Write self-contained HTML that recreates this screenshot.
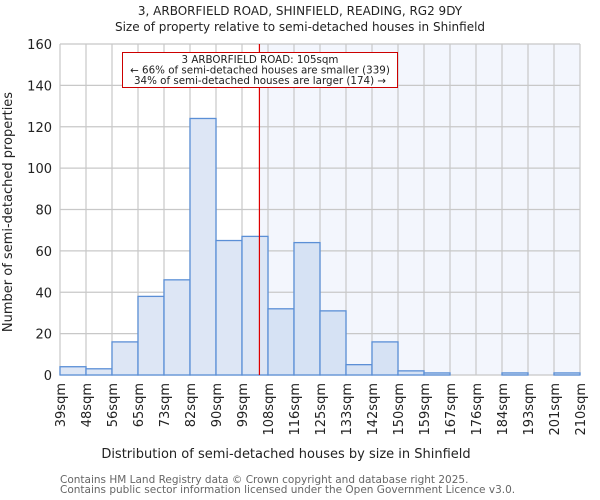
<!DOCTYPE html>
<html><head><meta charset="utf-8"><style>
body{margin:0;background:#fff;}
svg{display:block;font-family:"DejaVu Sans","Liberation Sans",sans-serif;}
</style></head><body>
<svg id="c" width="600" height="500" viewBox="0 0 600 500">
<text x="300" y="15" text-anchor="middle" font-size="12" fill="#222">3, ARBORFIELD ROAD, SHINFIELD, READING, RG2 9DY</text>
<text x="300" y="31" text-anchor="middle" font-size="12" fill="#222">Size of property relative to semi-detached houses in Shinfield</text>
<g id="plot"></g>
<text x="286" y="458" text-anchor="middle" font-size="13" fill="#222">Distribution of semi-detached houses by size in Shinfield</text>
<text transform="translate(12,212) rotate(-90)" text-anchor="middle" font-size="13" fill="#222">Number of semi-detached properties</text>
<text x="60" y="483" font-size="10.5" fill="#666">Contains HM Land Registry data © Crown copyright and database right 2025.</text>
<text x="60" y="493" font-size="10.5" fill="#666">Contains public sector information licensed under the Open Government Licence v3.0.</text>
</svg>
<script>
const edgeLabels = ["39sqm","48sqm","56sqm","65sqm","73sqm","82sqm","90sqm","99sqm","108sqm","116sqm","125sqm","133sqm","142sqm","150sqm","159sqm","167sqm","176sqm","184sqm","193sqm","201sqm","210sqm"];
const counts = [4,3,16,38,46,124,65,67,32,64,31,5,16,2,1,0,0,1,0,1];
const yTicks = [0,20,40,60,80,100,120,140,160];
const markerBin = 7.67; // 105sqm in bin units
const annotation = ["3 ARBORFIELD ROAD: 105sqm","← 66% of semi-detached houses are smaller (339)","34% of semi-detached houses are larger (174) →"];

const NS="http://www.w3.org/2000/svg";
const L=60,R=580,T=44,B=375,yMax=160;
const bw=(R-L)/counts.length;
const x=i=>L+i*bw;
const y=v=>B-(v/yMax)*(B-T);
const g=document.getElementById('plot');
function mk(t,a,p){const e=document.createElementNS(NS,t);for(const k in a)e.setAttribute(k,a[k]);(p||g).appendChild(e);return e;}

const mx=x(markerBin);
let e=mk('rect',{x:mx,y:T,width:R-mx,height:B-T,fill:'#f3f6fd'});


yTicks.forEach(v=>{
  let l=mk('line',{x1:L,x2:R,y1:y(v),y2:y(v),stroke:'#c8c8c8','stroke-width':1.2});
  
  
  let t=mk('text',{x:L-8,y:y(v)+5,'text-anchor':'end','font-size':13,fill:'#222'});
  t.textContent=v;
  
  
});
edgeLabels.forEach((s,i)=>{
  let l=mk('line',{x1:x(i),x2:x(i),y1:T,y2:B,stroke:'#c8c8c8','stroke-width':1.2});
  
  
  let t=mk('text',{transform:`translate(${x(i)+5},383) rotate(-90)`,'text-anchor':'end','font-size':13,fill:'#222'});
  t.textContent=s;
  
  
});
counts.forEach((v,i)=>{
  let r=mk('rect',{x:x(i),y:y(v),width:bw,height:B-y(v),fill:(i+0.5)>markerBin?'#d6e2f4':'#dde6f5',stroke:'#5b8fd6','stroke-width':1.3});
  
  
});
e=mk('line',{x1:mx,x2:mx,y1:T,y2:B,stroke:'#d00','stroke-width':1.2});


e=mk('rect',{x:122.5,y:52.5,width:275,height:35,fill:'#fff',stroke:'#c00','stroke-width':1});


annotation.forEach((s,i)=>{
  let t=mk('text',{x:260,y:63+i*10.5,'text-anchor':'middle','font-size':10.3,fill:'#222'});
  t.textContent=s;
  
  
});
</script>
</body></html>
